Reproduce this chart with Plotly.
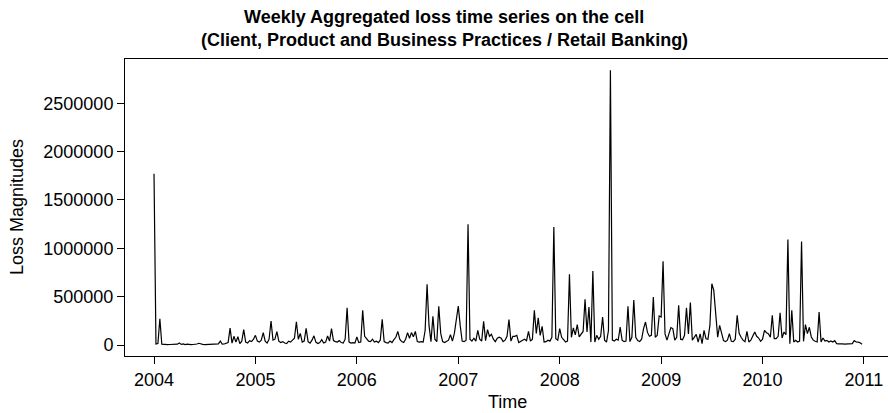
import plotly.graph_objects as go

# Weekly aggregated losses, 52 weeks per year, 2004-2010
loss_2004 = [1770000, 10000, 15000, 272000, 8000, 5000, 4000, 3000, 5000, 4000,
             6000, 4000, 8000, 20000, 6000, 12000, 5000, 8000, 4000, 3000,
             5000, 6000, 10000, 18000, 10000, 6000, 4000, 5000, 8000, 4000,
             6000, 10000, 5000, 12000, 40000, 8000, 10000, 15000, 25000, 175000,
             20000, 90000, 30000, 86000, 15000, 40000, 160000, 30000, 20000, 45000,
             35000, 60000]
loss_2005 = [100000, 40000, 30000, 50000, 128000, 40000, 20000, 60000, 248000, 50000,
             60000, 138000, 40000, 25000, 35000, 20000, 15000, 40000, 30000, 50000,
             70000, 241000, 60000, 120000, 30000, 40000, 172000, 35000, 20000, 50000,
             95000, 30000, 15000, 25000, 55000, 20000, 30000, 93000, 40000, 169000,
             45000, 35000, 30000, 45000, 25000, 20000, 60000, 386000, 30000, 20000,
             25000, 20000]
loss_2006 = [83000, 25000, 30000, 358000, 90000, 65000, 40000, 35000, 60000, 30000,
             40000, 25000, 50000, 265000, 35000, 25000, 20000, 40000, 25000, 55000,
             80000, 141000, 60000, 35000, 25000, 60000, 128000, 70000, 128000, 85000,
             141000, 35000, 30000, 35000, 30000, 150000, 627000, 200000, 35000, 296000,
             60000, 35000, 400000, 120000, 35000, 25000, 40000, 50000, 107000, 40000,
             120000, 250000]
loss_2007 = [403000, 200000, 40000, 35000, 50000, 1250000, 60000, 40000, 70000, 40000,
             152000, 60000, 40000, 245000, 45000, 158000, 90000, 110000, 60000, 35000,
             70000, 80000, 70000, 35000, 50000, 90000, 262000, 40000, 90000, 90000,
             100000, 25000, 40000, 50000, 60000, 45000, 141000, 40000, 60000, 358000,
             120000, 280000, 100000, 193000, 30000, 35000, 50000, 40000, 80000, 1220000,
             65000, 50000]
loss_2008 = [169000, 80000, 55000, 30000, 40000, 731000, 80000, 176000, 105000, 210000,
             85000, 120000, 140000, 472000, 135000, 393000, 30000, 765000, 30000, 100000,
             60000, 90000, 288000, 50000, 30000, 150000, 2842000, 50000, 40000, 60000,
             50000, 186000, 50000, 35000, 40000, 400000, 35000, 80000, 465000, 80000,
             45000, 35000, 60000, 169000, 238000, 130000, 90000, 100000, 496000, 80000,
             100000, 300000]
loss_2009 = [290000, 865000, 115000, 50000, 120000, 180000, 170000, 50000, 80000, 410000,
             60000, 55000, 100000, 386000, 115000, 438000, 50000, 80000, 110000, 30000,
             115000, 15000, 152000, 65000, 60000, 200000, 634000, 565000, 350000, 80000,
             203000, 115000, 45000, 35000, 50000, 117000, 38000, 35000, 60000, 307000,
             120000, 80000, 50000, 35000, 141000, 31000, 50000, 93000, 134000, 90000,
             72000, 38000]
loss_2010 = [60000, 152000, 127000, 117000, 80000, 307000, 65000, 65000, 90000, 334000,
             72000, 134000, 107000, 1090000, 14000, 358000, 31000, 48000, 31000, 40000,
             1070000, 38000, 210000, 117000, 183000, 83000, 50000, 38000, 31000, 341000,
             31000, 72000, 40000, 48000, 31000, 41000, 31000, 45000, 14000, 12000,
             14000, 12000, 10000, 12000, 14000, 13000, 15000, 45000, 31000, 30000,
             24000, 7000]

years = [2004, 2005, 2006, 2007, 2008, 2009, 2010]
yearly = [loss_2004, loss_2005, loss_2006, loss_2007, loss_2008, loss_2009, loss_2010]

x_ticks = [2004, 2005, 2006, 2007, 2008, 2009, 2010, 2011]
y_ticks = [0, 500000, 1000000, 1500000, 2000000, 2500000]

t, v = [], []
for yr, vals in zip(years, yearly):
    assert len(vals) == 52
    for k, val in enumerate(vals):
        t.append(yr + k / 52)
        v.append(val)

FONT = "Liberation Sans, Arial, Helvetica, sans-serif"
W, H = 888, 413
ML, MR, MT, MB = 125, 0, 59, 57
plot_w = W - ML - MR
plot_h = H - MT - MB


def px_x(px):
    return (px - ML) / plot_w


def px_y(py):
    return (H - MB - py) / plot_h


fig = go.Figure()
fig.add_trace(go.Scatter(x=t, y=v, mode="lines",
                         line=dict(color="black", width=1.2),
                         hoverinfo="x+y", showlegend=False))

fig.update_layout(
    width=W, height=H,
    margin=dict(l=ML, r=MR, t=MT, b=MB),
    paper_bgcolor="white", plot_bgcolor="white",
    font=dict(family=FONT, color="black", size=18),
    xaxis=dict(range=[2003.714, 2011.237], tickvals=x_ticks,
               ticktext=[str(x) for x in x_ticks],
               showgrid=False, zeroline=False,
               showline=True, linecolor="black", linewidth=1, mirror=True,
               ticks="outside", ticklen=7, tickcolor="black",
               tickfont=dict(size=18, family=FONT)),
    yaxis=dict(range=[-113800, 2958000], tickvals=y_ticks,
               ticktext=[str(y) for y in y_ticks],
               showgrid=False, zeroline=False,
               showline=True, linecolor="black", linewidth=1,
               ticks="outside", ticklen=7, tickcolor="black",
               tickfont=dict(size=18, family=FONT)),
)

ann = [
    ("<b>Weekly Aggregated loss time series on the cell</b>", 444, 17, 18, 0),
    ("<b>(Client, Product and Business Practices / Retail Banking)</b>", 444, 40, 18, 0),
    ("Time", 507, 402, 18, 0),
    ("Loss Magnitudes", 17, 207, 18, -90),
]
for text, ax, ay, fs, ang in ann:
    fig.add_annotation(text=text, x=px_x(ax), y=px_y(ay), xref="paper", yref="paper",
                       xanchor="center", yanchor="middle", showarrow=False,
                       textangle=ang, font=dict(size=fs, family=FONT, color="black"))

fig.write_html("out.html")
